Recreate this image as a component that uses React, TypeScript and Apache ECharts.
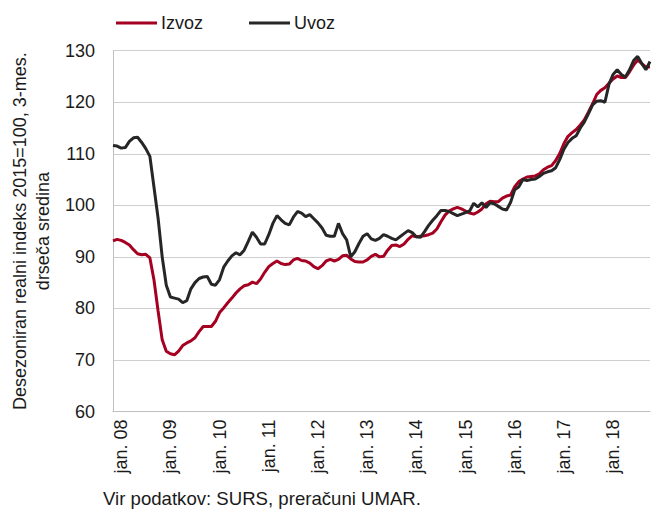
import React, { useEffect, useRef } from "react";
import * as echarts from "echarts";

const monthNames = ["jan", "feb", "mar", "apr", "maj", "jun", "jul", "avg", "sep", "okt", "nov", "dec"];
// monthly categories: nov. 2007 – okt. 2018
const startYear = 2007;
const startMonth = 10; // November (0-based)
const pointCount = 132;
const categories: string[] = [];
for (let k = 0; k < pointCount; k++) {
  const m = (startMonth + k) % 12;
  const y = startYear + Math.floor((startMonth + k) / 12);
  categories.push(`${monthNames[m]}. ${String(y % 100).padStart(2, "0")}`);
}

const yTicks = { min: 60, max: 130, interval: 10 };

const izvoz = [
  93.1, 93.4, 93.2, 92.8, 92.3, 91.4, 90.6, 90.4, 90.5, 89.8,
  85.5, 79.5, 73.9, 71.7, 71.2, 71.0, 71.7, 72.8, 73.3, 73.7,
  74.3, 75.5, 76.5, 76.5, 76.5, 77.5, 79.2, 80.1, 81.1, 82.0,
  83.0, 83.8, 84.4, 84.6, 85.1, 84.8, 85.7, 87.0, 88.1, 88.7,
  89.2, 88.7, 88.5, 88.6, 89.4, 89.7, 89.3, 89.2, 88.8, 88.1,
  87.7, 88.3, 89.2, 89.5, 89.2, 89.5, 90.2, 90.3, 89.6, 89.1,
  89.0, 89.0, 89.4, 90.1, 90.5, 90.0, 90.1, 91.3, 92.2, 92.3,
  92.0, 92.5, 93.4, 94.1, 93.9, 94.0, 94.1, 94.3, 94.6, 95.4,
  96.8, 98.1, 98.9, 99.3, 99.6, 99.3, 98.9, 98.5, 98.3, 98.7,
  99.3, 100.3, 100.8, 100.7, 100.7, 101.4, 101.8, 102.0, 103.6, 104.6,
  105.1, 105.5, 105.6, 105.7, 106.1, 106.9, 107.4, 107.7, 108.7, 110.1,
  112.0, 113.4, 114.1, 114.7, 115.6, 116.6, 118.1, 119.7, 121.5, 122.3,
  122.8, 123.7, 124.5, 125.1, 124.8, 124.8, 125.9, 127.2, 128.2, 127.5,
  126.8, 126.9,
];

const uvoz = [
  111.6, 111.5, 111.1, 111.2, 112.4, 113.1, 113.2, 112.2, 111.0, 109.5,
  103.5, 97.5, 90.0, 84.5, 82.2, 82.0, 81.8, 81.1, 81.5, 83.8,
  85.0, 85.8, 86.1, 86.2, 84.7, 84.5, 85.6, 88.0, 89.2, 90.2,
  90.8, 90.4, 91.3, 93.0, 94.8, 93.8, 92.5, 92.5, 94.3, 96.5,
  98.0, 97.2, 96.5, 96.2, 97.7, 98.8, 98.5, 97.8, 98.2, 97.4,
  96.6, 95.6, 94.2, 94.0, 94.0, 96.5, 94.5, 93.3, 90.0, 91.0,
  92.6, 94.0, 94.5, 93.5, 93.2, 93.6, 94.3, 94.0, 93.6, 93.3,
  93.9, 94.5, 95.1, 94.7, 93.9, 93.8, 94.9, 96.1, 97.1, 98.0,
  99.0, 99.0, 98.8, 98.4, 98.0, 98.3, 98.6, 98.9, 100.4, 99.7,
  100.5, 99.6, 100.5, 100.3, 99.8, 99.3, 99.1, 100.6, 103.0, 103.6,
  105.0, 104.8, 105.0, 105.1, 105.6, 106.2, 106.5, 106.7, 107.3, 108.9,
  110.9, 112.2, 113.0, 113.5, 115.0, 116.2, 117.8, 119.5, 120.2, 120.3,
  120.0, 123.5, 125.4, 126.3, 125.4, 124.9, 126.3, 128.1, 128.9, 127.5,
  126.3, 127.9,
];

const seriesNames = ["Izvoz", "Uvoz"];
const seriesColors = ["#a50021", "#262626"];
const yAxisTitle = "Desezoniran realni indeks 2015=100, 3-mes.\ndrseča sredina";
const sourceNote = "Vir podatkov: SURS, preračuni UMAR.";

const FONT = "'Liberation Sans', Arial, sans-serif";
const FS = 18;
const TXT = "#1a1a1a";

export default function App() {
  const ref = useRef<HTMLDivElement>(null);
  useEffect(() => {
    if (!ref.current) return;
    const chart = echarts.init(ref.current, null, { renderer: "svg" });
    chart.setOption({
      animation: false,
      backgroundColor: "#ffffff",
      textStyle: { fontFamily: FONT, color: TXT },
      grid: { left: 110, right: 4, top: 50.7, bottom: 100.5, containLabel: false },
      legend: {
        left: 111,
        top: 9,
        icon: "rect",
        itemWidth: 41,
        itemHeight: 3,
        itemGap: 46,
        textStyle: { fontFamily: FONT, fontSize: FS, color: TXT, padding: [0, 0, 0, -1] },
        data: seriesNames,
      },
      xAxis: {
        type: "category",
        boundaryGap: false,
        data: categories,
        axisTick: { show: false },
        axisLine: { lineStyle: { color: "#bfbfbf", width: 1 } },
        axisLabel: {
          rotate: 90,
          margin: 8,
          fontFamily: FONT,
          fontSize: FS,
          color: TXT,
          interval: (_i: number, v: string) => v.startsWith("jan"),
        },
        splitLine: { show: false },
      },
      yAxis: {
        type: "value",
        min: yTicks.min,
        max: yTicks.max,
        interval: yTicks.interval,
        name: yAxisTitle,
        nameLocation: "middle",
        nameRotate: 90,
        nameGap: 59,
        nameTextStyle: { fontFamily: FONT, fontSize: FS, color: TXT, lineHeight: 23, align: "center" },
        axisLine: { show: true, lineStyle: { color: "#bfbfbf", width: 1 } },
        axisTick: { show: false },
        axisLabel: { margin: 18, fontFamily: FONT, fontSize: FS, color: TXT },
        splitLine: { lineStyle: { color: "#cfcfcf", width: 1 } },
      },
      series: [
        {
          name: seriesNames[0],
          type: "line",
          data: izvoz,
          symbol: "none",
          lineStyle: { color: seriesColors[0], width: 3 },
          itemStyle: { color: seriesColors[0] },
          z: 2,
        },
        {
          name: seriesNames[1],
          type: "line",
          data: uvoz,
          symbol: "none",
          lineStyle: { color: seriesColors[1], width: 3 },
          itemStyle: { color: seriesColors[1] },
          z: 3,
        },
      ],
      graphic: [
        {
          type: "text",
          left: 103,
          top: 489,
          style: { text: sourceNote, font: `18.6px ${FONT}`, fill: TXT },
        },
      ],
    });
    return () => chart.dispose();
  }, []);
  return (
    <div
      ref={ref}
      style={{ position: "fixed", left: 0, top: 0, width: 654, height: 512, background: "#fff" }}
    />
  );
}
